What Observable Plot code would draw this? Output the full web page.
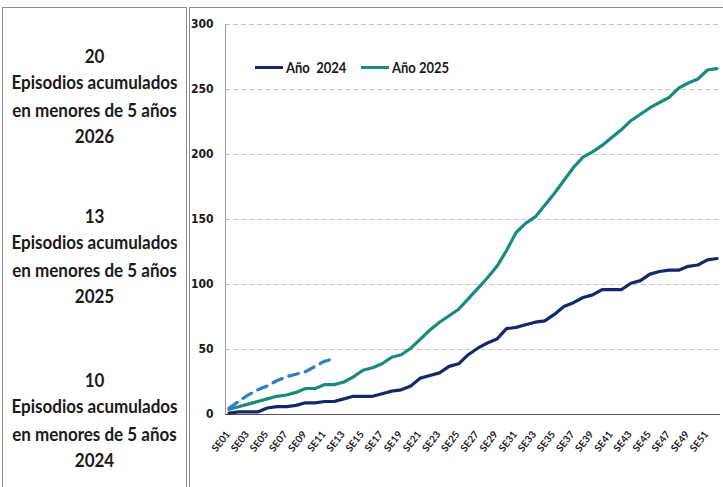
<!DOCTYPE html>
<html><head><meta charset="utf-8">
<script src="https://cdn.jsdelivr.net/npm/d3@7"></script>
<script src="https://cdn.jsdelivr.net/npm/@observablehq/plot@0.6"></script>
<style>
html,body{margin:0;padding:0;background:#fff;width:723px;height:487px;overflow:hidden;font-family:Lato,"Open Sans",sans-serif;}
#left{position:absolute;left:2px;top:7px;width:183px;height:490px;border:1px solid #8c8c8c;border-bottom:none;}
.blk{position:absolute;left:0;width:183px;text-align:center;font-weight:bold;font-size:17px;line-height:23.3px;color:#1a1a1a;transform:scaleY(1.15);transform-origin:50% 0;}
#chartbox{position:absolute;left:189px;top:7px;width:540px;height:490px;border-left:1px solid #8c8c8c;border-top:1px solid #8c8c8c;}
#plot{position:absolute;left:189px;top:7px;width:534px;}
#legend{position:absolute;left:255px;top:58px;font-size:13px;font-weight:bold;color:#1a1a1a;white-space:pre;font-family:Lato,sans-serif;}
.li{position:absolute;top:0;display:flex;align-items:center;height:18px;}
.li span.t{display:inline-block;transform:scaleY(1.15);}
.sw{display:inline-block;width:28px;height:3px;margin-right:3px;}
</style></head>
<body>
<div id="left"></div>
<div id="chartbox"></div>
<div id="plot"></div>
<div id="legend"></div>
<script>
const weeks = ["SE01","SE02","SE03","SE04","SE05","SE06","SE07","SE08","SE09","SE10","SE11","SE12","SE13","SE14","SE15","SE16","SE17","SE18","SE19","SE20","SE21","SE22","SE23","SE24","SE25","SE26","SE27","SE28","SE29","SE30","SE31","SE32","SE33","SE34","SE35","SE36","SE37","SE38","SE39","SE40","SE41","SE42","SE43","SE44","SE45","SE46","SE47","SE48","SE49","SE50","SE51","SE52"];
const tickWeeks = ["SE01","SE03","SE05","SE07","SE09","SE11","SE13","SE15","SE17","SE19","SE21","SE23","SE25","SE27","SE29","SE31","SE33","SE35","SE37","SE39","SE41","SE43","SE45","SE47","SE49","SE51"];
const yTicks = [0,50,100,150,200,250,300];
const values2024 = [1,2,2,2,5,6,6,7,9,9,10,10,12,14,14,14,16,18,19,22,28,30,32,37,39,46,51,55,58,66,67,69,71,72,77,83,86,90,92,96,96,96,101,103,108,110,111,111,114,115,119,120];
const values2025 = [4,6,8,10,12,14,15,17,20,20,23,23,25,29,34,36,39,44,46,51,58,65,71,76,81,89,97,105,114,126,140,147,152,161,170,180,190,198,202,207,213,219,226,231,236,240,244,251,255,258,265,266];
const values2026 = [5,10,15,19,22,26,29,31,33,37,41,43];
const legendLabels = ["Año  2024","Año 2025"];
const sideBlocks = [
  ["20","Episodios acumulados","en menores de 5 años","2026"],
  ["13","Episodios acumulados","en menores de 5 años","2025"],
  ["10","Episodios acumulados","en menores de 5 años","2024"]
];
const colors = {y2024:"#13296B", y2025:"#1B8A7E", y2026:"#2F7EC6"};

const weekIndex = w => weeks.indexOf(w) + 1;
const d2024 = values2024.map((v,i)=>({week:i+1, value:v}));
const d2025 = values2025.map((v,i)=>({week:i+1, value:v}));
const d2026 = values2026.map((v,i)=>({week:i+1, value:v}));

const left = document.getElementById("left");
const tops = [34, 194, 358];
sideBlocks.forEach((lines,k)=>{
  const b = document.createElement("div");
  b.className = "blk"; b.style.top = tops[k]+"px";
  b.innerHTML = lines.join("<br>");
  left.appendChild(b);
});

const lg = document.getElementById("legend");
[[legendLabels[0], colors.y2024, 0],[legendLabels[1], colors.y2025, 106]].forEach(([t,c,x])=>{
  const it = document.createElement("div");
  it.className="li"; it.style.left = x+"px";
  it.innerHTML = `<span class="sw" style="background:${c}"></span><span class="t">${t}</span>`;
  lg.appendChild(it);
});

const chart = Plot.plot({
  width: 534, height: 480,
  marginLeft: 36, marginRight: 3, marginTop: 17, marginBottom: 73,
  style: {background:"transparent", fontFamily: "Lato, sans-serif", color:"#1a1a1a"},
  x: {type:"linear", domain: [0.63, 52.37], label: null},
  y: {domain:[0,300], label: null},
  marks: [
    Plot.gridY(yTicks.slice(1), {stroke:"#c8c8c8", strokeOpacity:1, strokeDasharray:"5,3"}),
    Plot.axisY(yTicks, {tickSize:0, tickPadding:12, fontWeight:"bold", fontSize:12, fontFamily:"'DejaVu Sans Condensed',sans-serif", label:null}),
    Plot.axisX(tickWeeks.map(weekIndex), {tickSize:0, tickPadding:18, dx:-1, tickRotate:-52, fontWeight:"bold", fontSize:10, tickFormat: d => weeks[d-1], label:null}),
    Plot.frame({anchor:"left", stroke:"#999"}),
    Plot.ruleY([0], {stroke:"#555", strokeWidth:1.2}),
    Plot.line(d2024, {x:"week", y:"value", stroke:colors.y2024, strokeWidth:3.2}),
    Plot.line(d2025, {x:"week", y:"value", stroke:colors.y2025, strokeWidth:3.2}),
    Plot.line(d2026, {x:"week", y:"value", stroke:colors.y2026, strokeWidth:3.2, strokeDasharray:"10,7"})
  ]
});
document.getElementById("plot").appendChild(chart);
</script>
</body></html>
